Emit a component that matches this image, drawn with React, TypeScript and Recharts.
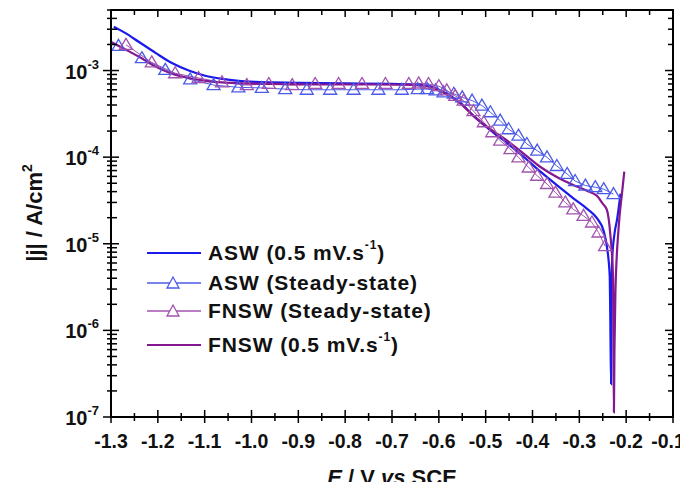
import React from 'react';
import { ComposedChart, Line, XAxis, YAxis } from 'recharts';

const FONT = '"Liberation Sans", Arial, Helvetica, sans-serif';

// ASW, potentiodynamic scan 0.5 mV/s
const aswScanE = [-1.294, -1.269, -1.241, -1.205, -1.17, -1.134, -1.099, -1.063, -1.028, -0.992, -0.956, -0.9, -0.8, -0.7, -0.65, -0.62, -0.597, -0.575, -0.555, -0.526, -0.49, -0.454, -0.419, -0.383, -0.348, -0.312, -0.284, -0.262, -0.248, -0.241, -0.235, -0.2337, -0.2322, -0.2315, -0.23, -0.225, -0.2195, -0.212];
const aswScanJ = [3.2e-3, 2.7e-3, 2.15e-3, 1.6e-3, 1.22e-3, 1.0e-3, 8.7e-4, 8.0e-4, 7.6e-4, 7.4e-4, 7.3e-4, 7.2e-4, 7.1e-4, 7.0e-4, 6.9e-4, 6.6e-4, 5.9e-4, 5.1e-4, 4.3e-4, 3.0e-4, 2.05e-4, 1.45e-4, 1.01e-4, 6.8e-5, 4.75e-5, 3.33e-5, 2.55e-5, 1.96e-5, 1.4e-5, 9.2e-6, 4.1e-6, 1.09e-6, 2.4e-7, 1.5e-6, 6.5e-6, 1.3e-5, 1.9e-5, 3.8e-5];

// ASW, steady-state points
const aswSteadyE = [-1.284, -1.234, -1.184, -1.131, -1.081, -1.028, -0.978, -0.928, -0.882, -0.832, -0.782, -0.729, -0.679, -0.645, -0.625, -0.607, -0.59, -0.568, -0.55, -0.529, -0.508, -0.49, -0.469, -0.451, -0.43, -0.412, -0.39, -0.369, -0.348, -0.326, -0.309, -0.287, -0.266, -0.248, -0.227];
const aswSteadyJ = [1.93e-3, 1.39e-3, 1.02e-3, 7.9e-4, 6.8e-4, 6.4e-4, 6.3e-4, 6.1e-4, 6.0e-4, 6.0e-4, 6.0e-4, 6.0e-4, 6.0e-4, 6.1e-4, 6.1e-4, 5.9e-4, 5.6e-4, 5.4e-4, 4.9e-4, 4.5e-4, 3.94e-4, 3.3e-4, 2.64e-4, 2.1e-4, 1.77e-4, 1.42e-4, 1.19e-4, 9.95e-5, 7.9e-5, 6.4e-5, 5.3e-5, 4.7e-5, 4.5e-5, 4.27e-5, 3.74e-5];

// FNSW, steady-state points
const fnswSteadyE = [-1.268, -1.213, -1.163, -1.113, -1.063, -1.01, -0.963, -0.913, -0.864, -0.814, -0.764, -0.714, -0.664, -0.643, -0.622, -0.6, -0.583, -0.565, -0.547, -0.526, -0.504, -0.486, -0.469, -0.447, -0.43, -0.408, -0.39, -0.369, -0.351, -0.33, -0.313, -0.291, -0.273, -0.259, -0.245];
const fnswSteadyJ = [1.98e-3, 1.24e-3, 9.3e-4, 8.2e-4, 7.3e-4, 6.8e-4, 7.0e-4, 6.8e-4, 7.0e-4, 7.0e-4, 7.0e-4, 7.0e-4, 7.0e-4, 7.1e-4, 7.0e-4, 6.6e-4, 5.9e-4, 5.1e-4, 4.5e-4, 3.4e-4, 2.53e-4, 1.94e-4, 1.55e-4, 1.24e-4, 9.95e-5, 7.6e-5, 6.1e-5, 4.9e-5, 3.9e-5, 3.0e-5, 2.5e-5, 2.1e-5, 1.76e-5, 1.35e-5, 9.4e-6];

// FNSW, potentiodynamic scan 0.5 mV/s
const fnswScanE = [-1.301, -1.269, -1.241, -1.205, -1.17, -1.134, -1.099, -1.063, -1.028, -0.956, -0.85, -0.75, -0.68, -0.64, -0.615, -0.597, -0.575, -0.555, -0.526, -0.49, -0.454, -0.419, -0.383, -0.348, -0.312, -0.284, -0.262, -0.25, -0.241, -0.234, -0.228, -0.227, -0.2262, -0.225, -0.223, -0.216, -0.209, -0.204];
const fnswScanJ = [2.15e-3, 1.75e-3, 1.45e-3, 1.11e-3, 9.2e-4, 8.2e-4, 7.6e-4, 7.3e-4, 7.15e-4, 7.0e-4, 6.9e-4, 6.9e-4, 6.85e-4, 6.7e-4, 6.4e-4, 5.8e-4, 5.0e-4, 4.2e-4, 3.0e-4, 2.1e-4, 1.55e-4, 1.1e-4, 7.7e-5, 5.9e-5, 4.75e-5, 4.1e-5, 3.55e-5, 2.9e-5, 2.45e-5, 1.31e-5, 4.1e-6, 7e-7, 1.13e-7, 6e-7, 2.67e-6, 1.56e-5, 3.8e-5, 6.8e-5];

// axis ticks
const eMajorTicks = [-1.3, -1.2, -1.1, -1.0, -0.9, -0.8, -0.7, -0.6, -0.5, -0.4, -0.3, -0.2, -0.1];
const eMinorTicks = [-1.25, -1.15, -1.05, -0.95, -0.85, -0.75, -0.65, -0.55, -0.45, -0.35, -0.25, -0.15];
const jMajorTicks = [1e-7, 1e-6, 1e-5, 1e-4, 1e-3];
const jMinorTicks = [
  2e-7, 3e-7, 4e-7, 5e-7, 6e-7, 7e-7, 8e-7, 9e-7,
  2e-6, 3e-6, 4e-6, 5e-6, 6e-6, 7e-6, 8e-6, 9e-6,
  2e-5, 3e-5, 4e-5, 5e-5, 6e-5, 7e-5, 8e-5, 9e-5,
  2e-4, 3e-4, 4e-4, 5e-4, 6e-4, 7e-4, 8e-4, 9e-4,
  2e-3, 3e-3, 4e-3, 5e-3,
];

const E_DOMAIN = [-1.3, -0.1];
const J_DOMAIN = [1e-7, 5e-3];

const zip = (es: number[], js: number[]) => es.map((e, i) => ({ e, j: js[i] }));

const COLORS = {
  aswScan: '#1a1aeb',
  aswSteady: '#4b5be8',
  fnswSteady: '#a052ae',
  fnswScan: '#84188e',
};

const AXIS = '#000000';

// chart layout
const W = 688;
const H = 490;
const MARGIN = { top: 10, right: 15, bottom: 13, left: 11 };
const Y_AXIS_W = 100;
const X_AXIS_H = 60;
const PLOT_L = MARGIN.left + Y_AXIS_W;
const PLOT_T = MARGIN.top;
const PLOT_W = W - MARGIN.left - MARGIN.right - Y_AXIS_W;
const PLOT_H = H - MARGIN.top - MARGIN.bottom - X_AXIS_H;

const isMajorE = (v: number) => eMajorTicks.some((t) => Math.abs(t - v) < 1e-9);
const isMajorJ = (v: number) => jMajorTicks.some((t) => Math.abs(t - v) / t < 1e-6);

const Triangle = (props: any) => {
  const { cx, cy, stroke } = props;
  if (cx == null || cy == null) return null;
  return (
    <polygon
      points={`${cx},${cy - 6.5} ${cx + 6.5},${cy + 4.5} ${cx - 6.5},${cy + 4.5}`}
      fill="none"
      stroke={stroke}
      strokeWidth={1.3}
    />
  );
};

// bottom tick: crossing tick + label, plus the inward tick on the top edge
const BottomTick = (props: any) => {
  const { x, y, payload } = props;
  const major = isMajorE(payload.value);
  const tx = Math.min(x, 668);
  const top = y - PLOT_H;
  return (
    <g>
      <line x1={x} x2={x} y1={y - (major ? 7 : 4)} y2={y + (major ? 6 : 4)} stroke={AXIS} strokeWidth={1.5} />
      <line x1={x} x2={x} y1={top} y2={top + (major ? 7 : 5)} stroke={AXIS} strokeWidth={1.5} />
      {major && (
        <text x={tx} y={y + 31} textAnchor="middle" fontFamily={FONT} fontWeight="bold" fontSize={19.5} fill="#111">
          {payload.value.toFixed(1)}
        </text>
      )}
    </g>
  );
};

// left tick: crossing tick + label, plus the inward tick on the right edge
const LeftTick = (props: any) => {
  const { x, y, payload } = props;
  const major = isMajorJ(payload.value);
  const exp = Math.round(Math.log10(payload.value));
  const right = x + PLOT_W;
  return (
    <g>
      <line x1={x - (major ? 8 : 4)} x2={x + (major ? 8 : 6)} y1={y} y2={y} stroke={AXIS} strokeWidth={1.5} />
      <line x1={right - (major ? 8 : 5)} x2={right} y1={y} y2={y} stroke={AXIS} strokeWidth={1.5} />
      {major && (
        <text x={x - 12} y={y + 8} textAnchor="end" fontFamily={FONT} fontWeight="bold" fontSize={20} fill="#111">
          10
          <tspan fontSize={13} dy={-10}>{exp}</tspan>
        </text>
      )}
    </g>
  );
};

const legendRows = [
  { label: 'ASW (0.5 mV.s', sup: '-1', tail: ')', color: COLORS.aswScan, marker: false, top: 253 },
  { label: 'ASW (Steady-state)', sup: '', tail: '', color: COLORS.aswSteady, marker: true, top: 283 },
  { label: 'FNSW (Steady-state)', sup: '', tail: '', color: COLORS.fnswSteady, marker: true, top: 311 },
  { label: 'FNSW (0.5 mV.s', sup: '-1', tail: ')', color: COLORS.fnswScan, marker: false, top: 345 },
];

const App: React.FC = () => {
  const allETicks = [...eMajorTicks, ...eMinorTicks].sort((a, b) => a - b);
  const allJTicks = [...jMajorTicks, ...jMinorTicks].sort((a, b) => a - b);

  return (
    <div style={{ position: 'relative', margin: -8, width: W, height: H, background: '#fff' }}>
      <ComposedChart width={W} height={H} margin={MARGIN}>
        <XAxis
          dataKey="e"
          type="number"
          domain={E_DOMAIN}
          allowDataOverflow
          ticks={allETicks}
          interval={0}
          height={X_AXIS_H}
          tickSize={0}
          tickMargin={0}
          tickLine={false}
          tick={<BottomTick />}
          axisLine={{ stroke: AXIS, strokeWidth: 1.8 }}
          label={{
            value: 'E / V vs SCE',
            position: 'insideBottom',
            content: () => (
              <text x={392} y={485} textAnchor="middle" fontFamily={FONT} fontWeight="bold" fontSize={22} fill="#111">
                <tspan fontStyle="italic">E</tspan>
                <tspan> / V </tspan>
                <tspan fontStyle="italic">vs</tspan>
                <tspan> SCE</tspan>
              </text>
            ),
          }}
        />
        <YAxis
          type="number"
          scale="log"
          domain={J_DOMAIN}
          allowDataOverflow
          ticks={allJTicks}
          interval={0}
          width={Y_AXIS_W}
          tickSize={0}
          tickMargin={0}
          tickLine={false}
          tick={<LeftTick />}
          axisLine={{ stroke: AXIS, strokeWidth: 1.8 }}
          label={{
            value: '|j| / A/cm2',
            position: 'insideLeft',
            content: () => (
              <text
                x={42}
                y={213}
                transform="rotate(-90 42 213)"
                textAnchor="middle"
                fontFamily={FONT}
                fontWeight="bold"
                fontSize={22}
                fill="#111"
              >
                |j| / A/cm
                <tspan fontSize={14} dy={-10}>2</tspan>
              </text>
            ),
          }}
        />
        <Line
          data={zip(aswSteadyE, aswSteadyJ)}
          dataKey="j"
          stroke={COLORS.aswSteady}
          strokeWidth={1}
          dot={<Triangle stroke={COLORS.aswSteady} />}
          isAnimationActive={false}
        />
        <Line
          data={zip(fnswSteadyE, fnswSteadyJ)}
          dataKey="j"
          stroke={COLORS.fnswSteady}
          strokeWidth={1}
          dot={<Triangle stroke={COLORS.fnswSteady} />}
          isAnimationActive={false}
        />
        <Line
          data={zip(aswScanE, aswScanJ)}
          dataKey="j"
          stroke={COLORS.aswScan}
          strokeWidth={2.2}
          dot={false}
          type="monotone"
          isAnimationActive={false}
        />
        <Line
          data={zip(fnswScanE, fnswScanJ)}
          dataKey="j"
          stroke={COLORS.fnswScan}
          strokeWidth={2.2}
          dot={false}
          type="monotone"
          isAnimationActive={false}
        />
      </ComposedChart>

      {/* plot frame: top and right edges */}
      <div
        style={{
          position: 'absolute',
          zIndex: 5,
          left: PLOT_L - 1,
          top: PLOT_T - 1,
          width: PLOT_W + 2,
          height: PLOT_H + 2,
          border: `2px solid ${AXIS}`,
          boxSizing: 'border-box',
          pointerEvents: 'none',
        }}
      />

      <div style={{ position: 'absolute', zIndex: 6, left: 0, top: 0, fontFamily: FONT, fontWeight: 'bold', fontSize: 21, color: '#111' }}>
        {legendRows.map((r) => (
          <div key={r.label} style={{ position: 'absolute', left: 146, top: r.top - 13, whiteSpace: 'nowrap', display: 'flex', alignItems: 'center', height: 26 }}>
            <svg width={56} height={20} style={{ marginRight: 6 }}>
              <line x1={1} x2={55} y1={10} y2={10} stroke={r.color} strokeWidth={r.marker ? 1.5 : 2} />
              {r.marker && (
                <polygon points="27,4 33,15 21,15" fill="#fff" stroke={r.color} strokeWidth={1.3} />
              )}
            </svg>
            <span style={{ letterSpacing: 0.9 }}>
              {r.label}
              {r.sup && <sup style={{ fontSize: 12, verticalAlign: 'top', position: 'relative', top: -3 }}>{r.sup}</sup>}
              {r.tail}
            </span>
          </div>
        ))}
      </div>
    </div>
  );
};

export default App;
